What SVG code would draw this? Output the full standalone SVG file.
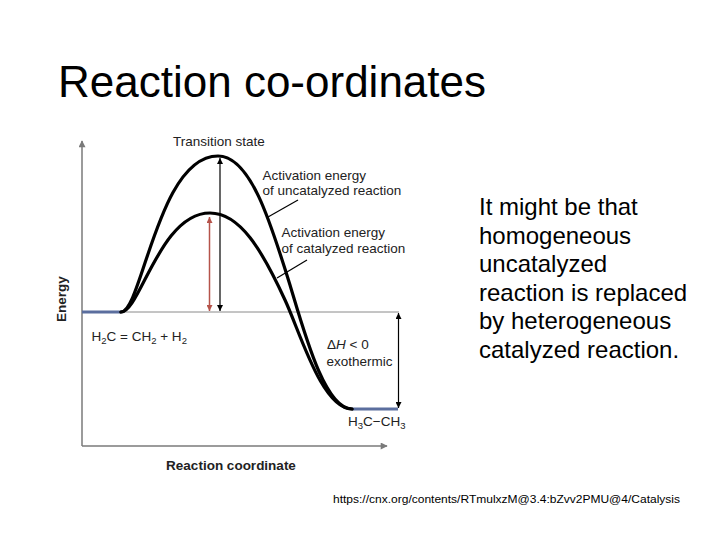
<svg xmlns="http://www.w3.org/2000/svg" width="720" height="540" viewBox="0 0 720 540">
<defs>
<style>
.lbl{font-family:"Liberation Sans",Arial,sans-serif;font-size:13.5px;fill:#222}
.bold{font-family:"Liberation Sans",Arial,sans-serif;font-size:13.5px;font-weight:bold;fill:#222}
.body{font-family:"Liberation Sans",Arial,sans-serif;font-size:24px;fill:#000}
.curve{fill:none;stroke:#000;stroke-width:3.2;stroke-linecap:round}
.axis{fill:none;stroke:#7a7a7a;stroke-width:1.5}
.level{fill:none;stroke:#5b6e9e;stroke-width:3}
.thin{fill:none;stroke:#000;stroke-width:1.2}
</style>
<marker id="ax" viewBox="0 0 10 10" refX="9" refY="5" markerWidth="11" markerHeight="7" markerUnits="userSpaceOnUse" orient="auto"><path d="M0,0 L10,5 L0,10 z" fill="#7a7a7a"/></marker>
<marker id="ab" viewBox="0 0 10 10" refX="10" refY="5" markerWidth="10" markerHeight="6" markerUnits="userSpaceOnUse" orient="auto-start-reverse"><path d="M0,0 L10,5 L0,10 z" fill="#000"/></marker>
<marker id="ar" viewBox="0 0 10 10" refX="10" refY="5" markerWidth="10" markerHeight="6" markerUnits="userSpaceOnUse" orient="auto-start-reverse"><path d="M0,0 L10,5 L0,10 z" fill="#b5534a"/></marker>
</defs>
<rect width="720" height="540" fill="#fff"/>
<text x="58" y="97" font-family="Liberation Sans, Arial, sans-serif" font-size="44" fill="#000">Reaction co-ordinates</text>
<g id="axes">
<line class="axis" x1="82" y1="446" x2="82" y2="141" marker-end="url(#ax)"/>
<line class="axis" x1="82" y1="446" x2="387" y2="446" marker-end="url(#ax)"/>
<line x1="121" y1="312" x2="399" y2="312" stroke="#8a8a8a" stroke-width="1"/>
<text class="bold" transform="translate(66,299) rotate(-90)" text-anchor="middle">Energy</text>
<text class="bold" x="231" y="470" text-anchor="middle">Reaction coordinate</text>
</g>
<g id="levels">
<line class="level" x1="82" y1="312" x2="121" y2="312"/>
<line class="level" x1="352" y1="409" x2="398" y2="409"/>
</g>
<g id="uncatalyzed">
<path class="curve" d="M121,312 C142,312 158,156 218,156 C250,156 270,220 290,285 C305,335 325,409 352,409"/>
</g>
<g id="catalyzed">
<path class="curve" d="M121,312 C140,312 160,213 210,213 C240,213 262,250 285,300 C300,332 322,409 352,409"/>
</g>
<g id="connectors">
<line x1="220" y1="158" x2="220" y2="311" stroke="#000" stroke-width="1.2" marker-start="url(#ab)" marker-end="url(#ab)"/>
<line x1="209.5" y1="217" x2="209.5" y2="311" stroke="#b5534a" stroke-width="1.5" marker-start="url(#ar)" marker-end="url(#ar)"/>
<line x1="398.5" y1="313" x2="398.5" y2="408" stroke="#000" stroke-width="1.2" marker-start="url(#ab)" marker-end="url(#ab)"/>
<line class="thin" x1="298" y1="200" x2="268" y2="217"/>
<line class="thin" x1="307" y1="260" x2="277" y2="278"/>
</g>
<g id="labels">
<text class="lbl" x="173" y="145.5">Transition state</text>
<text class="lbl" x="262.5" y="180">Activation energy</text>
<text class="lbl" x="262.5" y="195">of uncatalyzed reaction</text>
<text class="lbl" x="281.5" y="237">Activation energy</text>
<text class="lbl" x="281.5" y="252.5">of catalyzed reaction</text>
<text class="lbl" x="91.5" y="341">H<tspan font-size="9.5" dy="3">2</tspan><tspan dy="-3">C = CH</tspan><tspan font-size="9.5" dy="3">2</tspan><tspan dy="-3"> + H</tspan><tspan font-size="9.5" dy="3">2</tspan></text>
<text class="lbl" x="327" y="348.5">Δ<tspan font-style="italic">H</tspan> &lt; 0</text>
<text class="lbl" x="326.5" y="365.5">exothermic</text>
<text class="lbl" x="348" y="426">H<tspan font-size="9.5" dy="3">3</tspan><tspan dy="-3">C−CH</tspan><tspan font-size="9.5" dy="3">3</tspan></text>
</g>
<g id="note">
<text class="body" x="479" y="215">It might be that</text>
<text class="body" x="479" y="243.5">homogeneous</text>
<text class="body" x="479" y="272">uncatalyzed</text>
<text class="body" x="479" y="300.5">reaction is replaced</text>
<text class="body" x="479" y="329">by heterogeneous</text>
<text class="body" x="479" y="357.5">catalyzed reaction.</text>
</g>
<text x="333" y="503" font-family="Liberation Sans, Arial, sans-serif" font-size="11" fill="#000" textLength="347" lengthAdjust="spacingAndGlyphs">https://cnx.org/contents/RTmulxzM@3.4:bZvv2PMU@4/Catalysis</text>
</svg>
